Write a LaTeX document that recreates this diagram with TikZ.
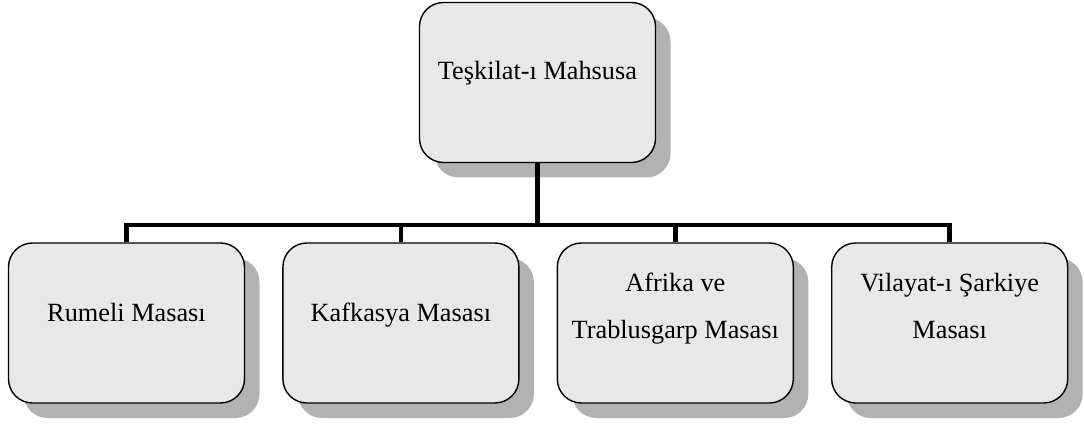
\documentclass[tikz,border=0pt]{standalone}
\usepackage{fontspec}
\setmainfont{Liberation Serif}
\usepackage{xcolor}
\usepackage{tikz}
\usetikzlibrary{positioning, shadows}

\begin{document}
\begin{tikzpicture}[x=1pt, y=1pt,
		unit/.style={draw, line width=1.4pt, rounded corners=24pt, fill=black!9,
			minimum width=236pt, minimum height=160pt, align=center,
			font=\fontsize{26.3}{47}\selectfont, text height=18pt, text depth=20pt,
			drop shadow={shadow xshift=15pt, shadow yshift=-15pt, fill=black!30, opacity=1}},
		twoline/.style={text height=52pt},
		link/.style={line width=4.5pt},
		node distance=37pt]
		\useasboundingbox (0,0) rectangle (1084,423);
		\node[unit, text depth=23pt] (tm) at (537.5,340.5) {Teşkilat-ı Mahsusa};
		\node[unit] (rumeli) at (126.5,100) {Rumeli Masası};
		\node[unit, right=of rumeli] (kafkas) {Kafkasya Masası};
		\node[unit, twoline, right=of kafkas] (afrika) {Afrika ve\\Trablusgarp Masası};
		\node[unit, twoline, right=of afrika] (sark) {Vilayat-ı Şarkiye\\Masası};
		
		\foreach \n in {rumeli, kafkas, afrika, sark}
			\draw[link] (tm.south) -- ++(0,-62) -| (\n.north);
	\end{tikzpicture}
\end{document}
